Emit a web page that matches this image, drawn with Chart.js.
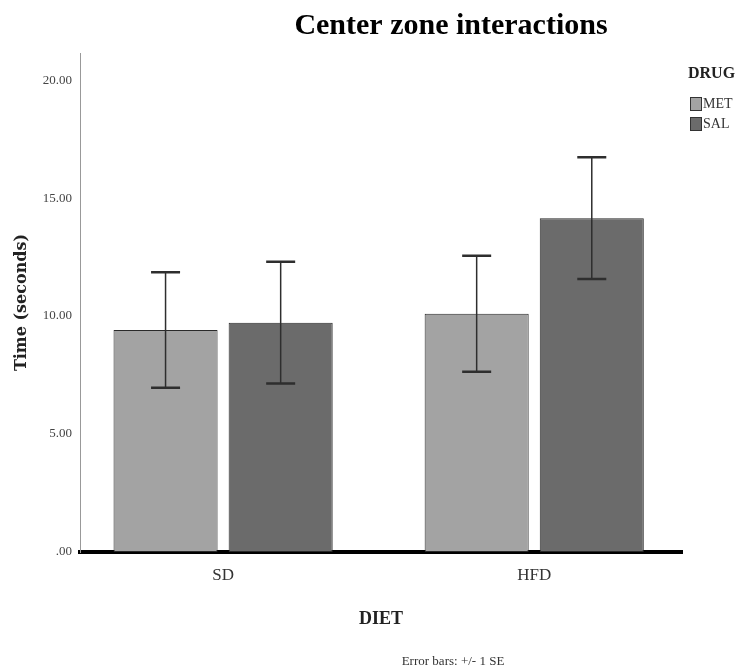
<!DOCTYPE html>
<html>
<head>
<meta charset="utf-8">
<script src="https://cdn.jsdelivr.net/npm/chart.js@4.4.1/dist/chart.umd.min.js"></script>
<style>
  html, body { margin: 0; padding: 0; background: #fff; }
  #wrap { width: 740px; height: 670px; }
</style>
</head>
<body>
<div id="wrap"><canvas id="chart"></canvas></div>
<script>
const categories = ['SD', 'HFD'];
const metMeans = [9.41, 10.10];
const salMeans = [9.72, 14.15];
const metSE = [2.45, 2.46];
const salSE = [2.58, 2.58];
const yTicks = [0, 5, 10, 15, 20];
const yTickLabels = ['.00', '5.00', '10.00', '15.00', '20.00'];

const serif = '"Liberation Serif", "Times New Roman", serif';

// +/- 1 SE whiskers on top of each bar
const errorBars = {
    id: 'errorBars',
    afterDatasetsDraw(chart) {
        const ctx = chart.ctx;
        const y = chart.scales.y;
        chart.data.datasets.forEach((ds, di) => {
            chart.getDatasetMeta(di).data.forEach((bar, i) => {
                const m = ds.data[i].y;
                const top = y.getPixelForValue(m + ds.se[i]);
                const bot = y.getPixelForValue(m - ds.se[i]);
                const half = 14.5;
                ctx.save();
                ctx.strokeStyle = '#2e2e2e';
                ctx.lineWidth = 1.5;
                ctx.beginPath();
                ctx.moveTo(bar.x, top);
                ctx.lineTo(bar.x, bot);
                ctx.stroke();
                ctx.lineWidth = 2.5;
                ctx.beginPath();
                ctx.moveTo(bar.x - half, top);
                ctx.lineTo(bar.x + half, top);
                ctx.moveTo(bar.x - half, bot);
                ctx.lineTo(bar.x + half, bot);
                ctx.stroke();
                ctx.restore();
            });
        });
    }
};

// title, legend and footnote
const texts = {
    id: 'texts',
    afterDraw(chart) {
        const ctx = chart.ctx;
        ctx.save();
        ctx.fillStyle = '#000';
        ctx.textBaseline = 'middle';
        ctx.textAlign = 'center';
        ctx.font = 'bold 30px ' + serif;
        ctx.fillText('Center zone interactions', 451, 26);

        ctx.textAlign = 'left';
        ctx.fillStyle = '#222';
        ctx.font = 'bold 16px ' + serif;
        ctx.fillText('DRUG', 688, 74);

        ctx.font = '14px ' + serif;
        chart.data.datasets.forEach((ds, i) => {
            const by = 97 + i * 20;
            ctx.fillStyle = ds.backgroundColor;
            ctx.fillRect(690, by, 11, 13);
            ctx.strokeStyle = '#333';
            ctx.lineWidth = 1;
            ctx.strokeRect(690.5, by + 0.5, 11, 13);
            ctx.fillStyle = '#333';
            ctx.fillText(ds.label, 703, by + 7);
        });

        ctx.textAlign = 'center';
        ctx.font = '13px ' + serif;
        ctx.fillStyle = '#333';
        ctx.fillText('Error bars: +/- 1 SE', 453, 662);
        ctx.restore();
    }
};

new Chart(document.getElementById('chart'), {
    type: 'bar',
    data: {
        datasets: [{
            label: 'MET',
            data: metMeans.map((v, i) => ({ x: i, y: v })),
            se: metSE,
            backgroundColor: '#a3a3a3',
            borderColor: '#2a2a2a',
            borderWidth: 1,
            borderSkipped: false
        }, {
            label: 'SAL',
            data: salMeans.map((v, i) => ({ x: i, y: v })),
            se: salSE,
            backgroundColor: '#6b6b6b',
            borderColor: '#2a2a2a',
            borderWidth: 1,
            borderSkipped: false
        }]
    },
    options: {
        responsive: true,
        maintainAspectRatio: false,
        animation: false,
        categoryPercentage: 0.74,
        barPercentage: 0.904,
        layout: { padding: { top: 53, right: 58, left: 0, bottom: 0 } },
        plugins: {
            legend: { display: false },
            tooltip: { enabled: false }
        },
        scales: {
            x: {
                type: 'linear',
                min: -0.46,
                max: 1.475,
                offset: false,
                z: 1,
                afterBuildTicks: (scale) => { scale.ticks = categories.map((c, i) => ({ value: i })); },
                afterFit: (scale) => { scale.height = 118; },
                grid: { display: false, drawTicks: false, offset: false },
                border: { color: '#000', width: 4 },
                ticks: {
                    padding: 13,
                    color: '#333',
                    font: { family: serif, size: 17 },
                    callback: (v) => categories[v]
                },
                title: {
                    display: true,
                    text: 'DIET',
                    color: '#222',
                    font: { family: serif, size: 18, weight: 'bold' },
                    padding: { top: 0, bottom: 40 }
                }
            },
            y: {
                min: 0,
                max: 21.15,
                afterBuildTicks: (scale) => { scale.ticks = yTicks.map(v => ({ value: v })); },
                afterFit: (scale) => { scale.width = 80; },
                grid: { display: false, drawTicks: false },
                border: { color: '#999', width: 1 },
                ticks: {
                    padding: 8,
                    color: '#444',
                    font: { family: serif, size: 13 },
                    callback: (v) => yTickLabels[yTicks.indexOf(v)]
                },
                title: {
                    display: true,
                    text: 'Time (seconds)',
                    color: '#222',
                    font: { family: '"DejaVu Serif", serif', size: 16, weight: 'bold' },
                    padding: { top: 12, bottom: 0 }
                }
            }
        }
    },
    plugins: [errorBars, texts]
});
</script>
</body>
</html>
